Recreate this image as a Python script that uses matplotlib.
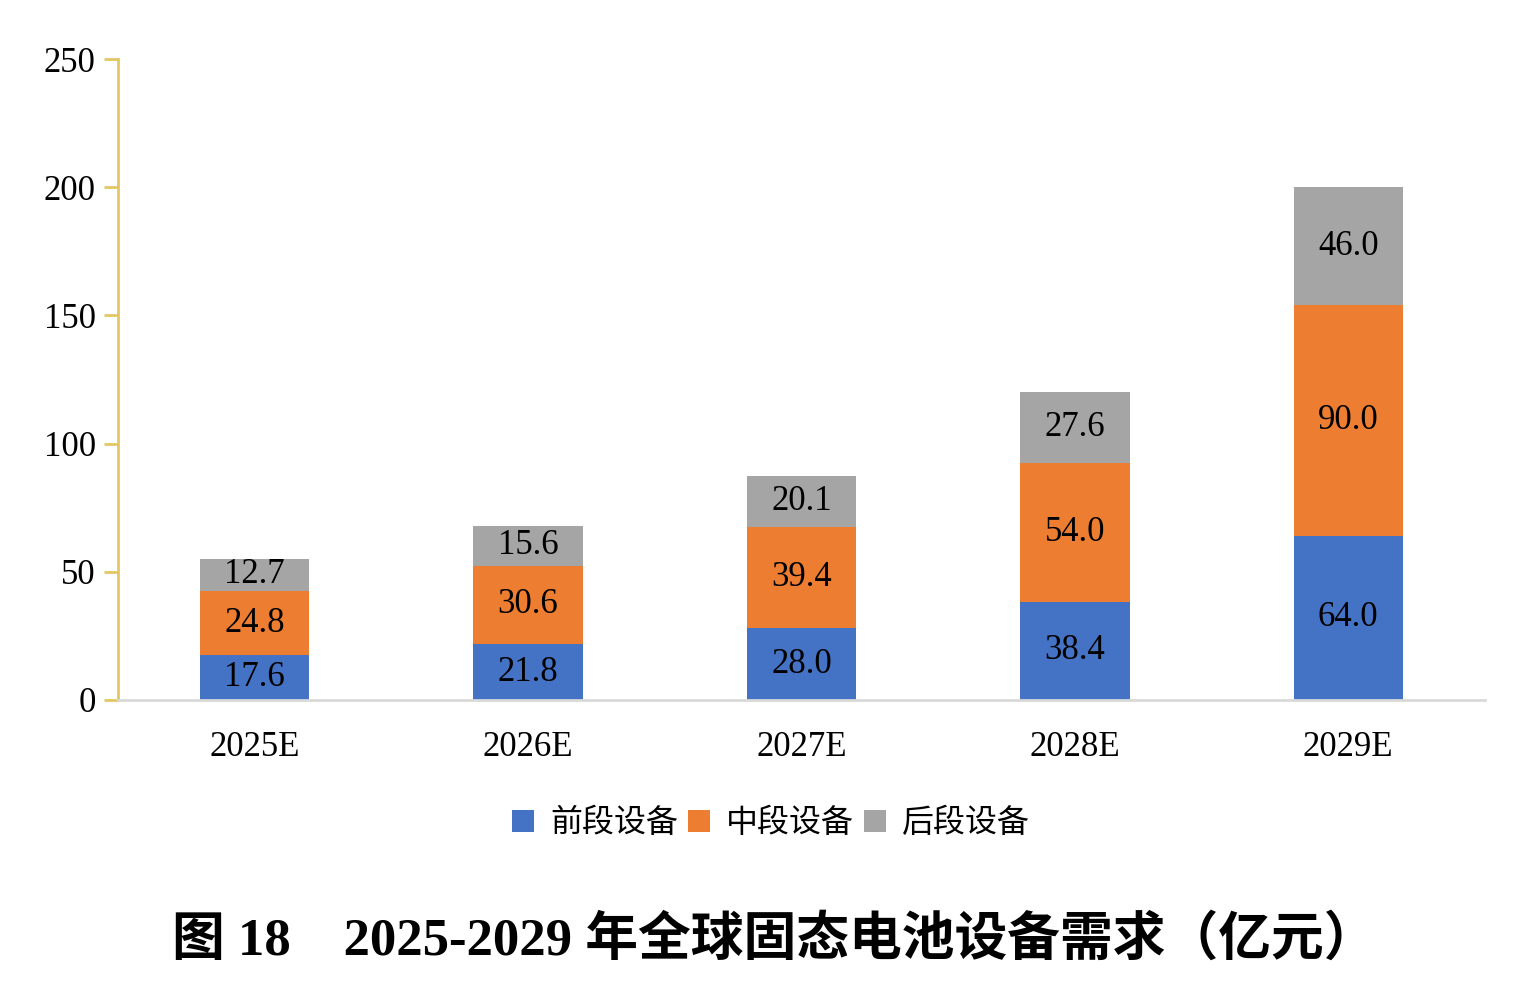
import matplotlib
matplotlib.use("Agg")
import matplotlib.pyplot as plt
import numpy as np

categories = ["2025E", "2026E", "2027E", "2028E", "2029E"]
front = [17.6, 21.8, 28.0, 38.4, 64.0]
middle = [24.8, 30.6, 39.4, 54.0, 90.0]
back = [12.7, 15.6, 20.1, 27.6, 46.0]
series_names = ["前段设备", "中段设备", "后段设备"]
colors = ["#4472C4", "#ED7D31", "#A5A5A5"]
yticks = [0, 50, 100, 150, 200, 250]
title = "图 18　2025-2029 年全球固态电池设备需求（亿元）"

serif = ["Liberation Serif", "Noto Sans CJK SC"]
cjk = ["Noto Sans CJK SC", "Liberation Serif"]

fig = plt.figure(figsize=(15.36, 9.92), dpi=100)
ax = fig.add_axes([0.0768, 0.2944, 0.8900, 0.6461])

x = np.arange(len(categories))
bottom = np.zeros(len(categories))
handles = []
for vals, name, c in zip([front, middle, back], series_names, colors):
    vals = np.array(vals)
    b = ax.bar(x, vals, width=0.4, bottom=bottom, color=c, label=name, zorder=3)
    handles.append(b)
    for xi, v, bt in zip(x, vals, bottom):
        ax.text(xi, bt + v / 2, f"{v:.1f}", ha="center", va="center",
                fontsize=25, family=serif, color="black", zorder=4)
    bottom += vals

ax.set_xlim(-0.5, len(categories) - 0.5)
ax.set_ylim(0, 250)
ax.set_yticks(yticks)
ax.set_yticklabels([str(t) for t in yticks], fontsize=25, family=serif)
ax.set_xticks(x)
ax.set_xticklabels(categories, fontsize=25, family=serif)

for s in ["top", "right"]:
    ax.spines[s].set_visible(False)
ax.spines["left"].set_color("#E2C766")
ax.spines["left"].set_linewidth(2)
ax.spines["bottom"].set_color("#D9D9D9")
ax.spines["bottom"].set_linewidth(2)
ax.spines["bottom"].set_zorder(5)
ax.tick_params(axis="y", direction="out", length=10, width=2, color="#E2C766", pad=6)
ax.tick_params(axis="x", length=0, pad=22)

leg = fig.legend(handles=handles, labels=series_names, loc="center",
                 bbox_to_anchor=(0.502, 0.170), ncol=3, frameon=False,
                 prop={"family": cjk, "size": 23}, handlelength=0.7,
                 handleheight=0.7, handletextpad=0.5, columnspacing=0.3)

fig.text(0.504, 0.052, title, ha="center", va="center", fontsize=38,
         fontweight="bold", family=serif)

fig.savefig("out.png", dpi=100, facecolor="white")
